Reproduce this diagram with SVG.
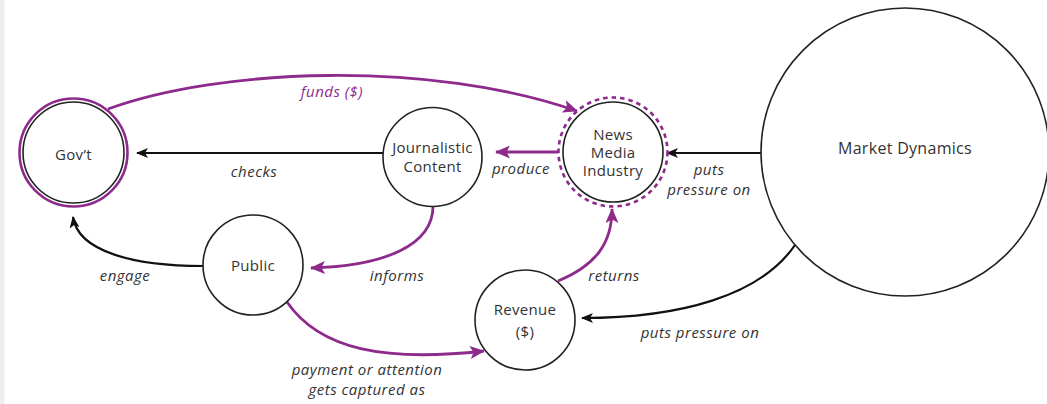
<svg xmlns="http://www.w3.org/2000/svg" width="1047" height="404" viewBox="0 0 1047 404">
  <style>
    .node { fill: #ffffff; stroke: #222222; stroke-width: 1.6; }
    .ntext { font-family: "Open Sans", "Liberation Sans", sans-serif; font-size: 15px; letter-spacing: 0.3px; fill: #333333; text-anchor: middle; }
    .lbl { font-family: "Open Sans", "Liberation Sans", sans-serif; font-size: 15px; letter-spacing: 0.5px; font-style: italic; fill: #333333; text-anchor: middle; }
    .lbl-p { fill: #8e2a8c; }
    .edge-k { fill: none; stroke: #111111; stroke-width: 2.2; }
    .edge-p { fill: none; stroke: #8e2a8c; stroke-width: 2.8; }
  </style>
  <defs>
    <marker id="arrow-k" viewBox="0 0 12 10" refX="11" refY="5" markerWidth="12" markerHeight="10" markerUnits="userSpaceOnUse" orient="auto">
      <path d="M0,0 L12,5 L0,10 L3,5 z" fill="#111111"/>
    </marker>
    <marker id="arrow-p" viewBox="0 0 15 13" refX="14" refY="6.5" markerWidth="15" markerHeight="13" markerUnits="userSpaceOnUse" orient="auto">
      <path d="M0,0 L15,6.5 L0,13 L3.5,6.5 z" fill="#8e2a8c"/>
    </marker>
  </defs>

  <rect x="0" y="0" width="1047" height="404" fill="#ffffff"/>
  <rect x="0" y="0" width="4.5" height="404" fill="#eeeeee"/>

  <!-- connectors -->
  <g id="connectors">
    <path class="edge-p" d="M108,109 C220,68 430,60 577,111" marker-end="url(#arrow-p)"/>
    <path class="edge-k" d="M383,153 L137,153" marker-end="url(#arrow-k)"/>
    <path class="edge-p" d="M562,152 L496,152" marker-end="url(#arrow-p)"/>
    <path class="edge-k" d="M762,153 L667,153" marker-end="url(#arrow-k)"/>
    <path class="edge-p" d="M433,205 C434,245 385,266 311,268" marker-end="url(#arrow-p)"/>
    <path class="edge-k" d="M203,266 C135,266 78,252 73,217" marker-end="url(#arrow-k)"/>
    <path class="edge-p" d="M287,302 C320,350 385,362 484,351" marker-end="url(#arrow-p)"/>
    <path class="edge-p" d="M558,281 C597,265 612,242 612,209" marker-end="url(#arrow-p)"/>
    <path class="edge-k" d="M795,245 C760,296 680,318 582,318" marker-end="url(#arrow-k)"/>

    <text class="lbl lbl-p" x="332" y="97">funds ($)</text>
    <text class="lbl" x="254" y="177">checks</text>
    <text class="lbl" x="521" y="174">produce</text>
    <text class="lbl" x="709" y="175">puts</text>
    <text class="lbl" x="709" y="195">pressure on</text>
    <text class="lbl" x="397" y="281">informs</text>
    <text class="lbl" x="125" y="281">engage</text>
    <text class="lbl" x="614" y="281">returns</text>
    <text class="lbl" x="700" y="338">puts pressure on</text>
    <text class="lbl" x="367" y="375">payment or attention</text>
    <text class="lbl" x="367" y="395">gets captured as</text>
  </g>

  <!-- nodes -->
  <g id="govt">
    <circle cx="73.5" cy="152.5" r="54" fill="#ffffff" stroke="#8e2a8c" stroke-width="2.6"/>
    <circle class="node" cx="73.5" cy="152.5" r="50.5"/>
    <text class="ntext" x="73.5" y="160">Gov’t</text>
  </g>
  <g id="journalistic-content">
    <circle class="node" cx="432.5" cy="157" r="49.5"/>
    <text class="ntext" x="432.5" y="153">Journalistic</text>
    <text class="ntext" x="432.5" y="172">Content</text>
  </g>
  <g id="news-media-industry">
    <circle cx="613" cy="152" r="54.5" fill="#ffffff" stroke="#8e2a8c" stroke-width="2.6" stroke-dasharray="4.5 4"/>
    <circle class="node" cx="613" cy="152" r="50"/>
    <text class="ntext" x="613" y="140">News</text>
    <text class="ntext" x="613" y="158">Media</text>
    <text class="ntext" x="613" y="176">Industry</text>
  </g>
  <g id="public">
    <circle class="node" cx="253" cy="265" r="50"/>
    <text class="ntext" x="253" y="271">Public</text>
  </g>
  <g id="revenue">
    <circle class="node" cx="525" cy="320" r="50"/>
    <text class="ntext" x="525" y="315">Revenue</text>
    <text class="ntext" x="525" y="337">($)</text>
  </g>
  <g id="market-dynamics">
    <circle class="node" cx="905" cy="152" r="144"/>
    <text class="ntext" x="905" y="154" style="font-size:16px">Market Dynamics</text>
  </g>
</svg>
